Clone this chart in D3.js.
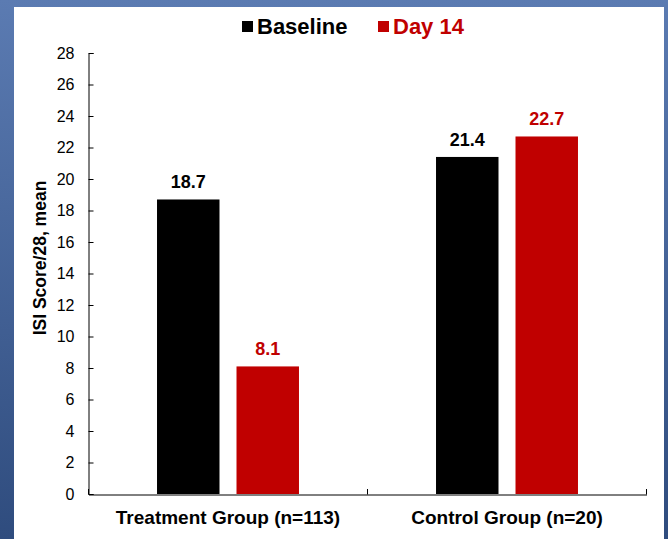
<!DOCTYPE html>
<html>
<head>
<meta charset="utf-8">
<script src="https://cdn.jsdelivr.net/npm/d3@7"></script>
<style>
  html, body { margin: 0; padding: 0; }
  body { width: 668px; height: 539px; overflow: hidden; }
  svg { display: block; }
</style>
</head>
<body>
<svg id="chart" width="668" height="539"></svg>
<script>
const categories = ["Treatment Group (n=113)", "Control Group (n=20)"];
const seriesNames = ["Baseline", "Day 14"];
const baselineValues = [18.7, 21.4];
const day14Values = [8.1, 22.7];
const yTicks = [0, 2, 4, 6, 8, 10, 12, 14, 16, 18, 20, 22, 24, 26, 28];
const seriesColors = ["#000000", "#C00000"];

const font = "'Liberation Sans', Arial, Helvetica, sans-serif";
const svg = d3.select("#chart");

// Background gradient
const defs = svg.append("defs");
const grad = defs.append("linearGradient").attr("id", "bg").attr("x1", 0).attr("y1", 0).attr("x2", 0).attr("y2", 1);
grad.append("stop").attr("offset", "0%").attr("stop-color", "#5b7bb2");
grad.append("stop").attr("offset", "100%").attr("stop-color", "#2f4c7e");
svg.append("rect").attr("width", 668).attr("height", 539).attr("fill", "url(#bg)");
svg.append("rect").attr("x", 14).attr("y", 7).attr("width", 650).attr("height", 540).attr("fill", "#ffffff");

const data = categories.map((c, i) => ({ cat: c, values: [baselineValues[i], day14Values[i]] }));

const y = d3.scaleLinear().domain([0, 28]).range([494, 53]);
const x0 = d3.scaleBand().domain(categories).range([88.5, 646.5]).padding(0);
const x1 = d3.scaleBand().domain(seriesNames).range([0, x0.bandwidth()]).paddingInner(0.214).paddingOuter(0.862);

// Bars
const groups = svg.append("g").selectAll("g").data(data).join("g")
  .attr("transform", d => `translate(${x0(d.cat)},0)`);
groups.selectAll("rect").data(d => d.values.map((v, j) => ({ s: seriesNames[j], v, j })))
  .join("rect")
  .attr("x", d => x1(d.s))
  .attr("y", d => y(d.v))
  .attr("width", x1.bandwidth())
  .attr("height", d => y(0) - y(d.v))
  .attr("fill", d => seriesColors[d.j]);
groups.selectAll("text").data(d => d.values.map((v, j) => ({ s: seriesNames[j], v, j })))
  .join("text")
  .attr("x", d => x1(d.s) + x1.bandwidth() / 2)
  .attr("y", d => y(d.v) - 11)
  .attr("text-anchor", "middle")
  .attr("font-family", font).attr("font-weight", "bold").attr("font-size", 18)
  .attr("fill", d => seriesColors[d.j])
  .text(d => d.v.toFixed(1));

// Y axis
const yAxis = svg.append("g").attr("transform", "translate(88.5,0)")
  .call(d3.axisLeft(y).tickValues(yTicks).tickSizeInner(-5).tickSizeOuter(-5).tickPadding(14));
yAxis.select(".domain").attr("stroke", "#000");
yAxis.selectAll(".tick line").attr("stroke", "#000");
yAxis.selectAll("text").attr("font-family", font).attr("font-size", 16).attr("fill", "#000");

// X axis
const xAxis = svg.append("g").attr("transform", "translate(0,494.5)")
  .call(d3.axisBottom(x0).tickSize(0).tickPadding(16));
xAxis.select(".domain").attr("stroke", "#000");
xAxis.selectAll("text").attr("font-family", font).attr("font-weight", "bold").attr("font-size", 19).attr("fill", "#000");
// boundary ticks between categories (inward)
const bounds = [x0.range()[0], ...categories.map(c => x0(c) + x0.bandwidth())];
svg.append("g").selectAll("line").data(bounds).join("line")
  .attr("x1", d => d).attr("x2", d => d).attr("y1", 494.5).attr("y2", 489)
  .attr("stroke", "#000");

// Y title
svg.append("text")
  .attr("transform", "translate(46,258) rotate(-90)")
  .attr("text-anchor", "middle")
  .attr("font-family", font).attr("font-weight", "bold").attr("font-size", 17.5)
  .text("ISI Score/28, mean");

// Legend
const legendX = [242, 378];
const legend = svg.append("g").selectAll("g").data(seriesNames).join("g")
  .attr("transform", (d, i) => `translate(${legendX[i]},0)`);
legend.append("rect").attr("x", 0).attr("y", 21).attr("width", 11).attr("height", 11)
  .attr("fill", (d, i) => seriesColors[i]);
legend.append("text").attr("x", 15).attr("y", 34)
  .attr("font-family", font).attr("font-weight", "bold").attr("font-size", 22)
  .attr("fill", (d, i) => seriesColors[i])
  .text(d => d);
</script>
</body>
</html>
